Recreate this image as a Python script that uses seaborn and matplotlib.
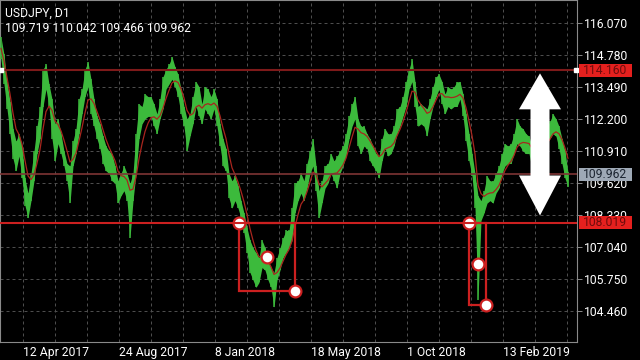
import numpy as np
import pandas as pd
import matplotlib
matplotlib.use("Agg")
import matplotlib.pyplot as plt
import seaborn as sns
from matplotlib.patches import Rectangle, Polygon
from matplotlib.transforms import blended_transform_factory

# ---------------- data ----------------
symbol_title = "USDJPY, D1"
ohlc_text = "109.719 110.042 109.466 109.962"

# price range of each group of 3 daily bars
bar_high = [115.5, 114.8, 113.7, 112.9, 111.8, 111.3, 111.6, 111.1, 109.8, 109.2,
            110.0, 110.9, 111.9, 112.7, 114.2, 114.4, 113.6, 113.0, 112.0, 112.2,
            111.6, 110.9, 110.4, 110.3, 111.3, 111.8, 113.0, 113.4, 114.2, 114.5,
            113.8, 113.0, 112.3, 112.0, 111.5, 111.1, 110.9, 110.8, 110.3, 109.7,
            110.0, 110.3, 110.0, 109.6, 110.0, 111.6, 112.8, 112.7, 113.2, 113.1,
            113.1, 112.8, 112.4, 113.0, 113.9, 114.2, 114.4, 114.7, 114.3, 114.0,
            113.4, 112.7, 112.2, 112.4, 113.1, 113.7, 113.5, 112.8, 113.5, 113.4,
            113.1, 113.4, 113.0, 112.0, 111.4, 111.0, 110.0, 109.7, 109.9, 109.5,
            108.9, 108.4, 107.8, 107.3, 107.0, 106.8, 106.6, 107.3, 107.0, 106.5,
            106.2, 106.0, 106.6, 107.0, 107.4, 107.7, 107.7, 108.6, 109.6, 109.7,
            110.0, 109.7, 110.4, 110.9, 111.4, 110.3, 109.3, 109.7, 110.3, 110.4,
            110.8, 110.5, 110.7, 110.9, 111.1, 111.6, 112.3, 112.8, 113.1, 112.2,
            111.9, 111.9, 111.6, 111.4, 111.1, 110.8, 110.7, 111.4, 111.8, 111.6,
            111.6, 111.9, 112.6, 112.7, 113.1, 113.7, 114.2, 114.6, 113.7, 112.7,
            112.8, 112.7, 112.6, 113.0, 113.5, 113.9, 114.0, 113.7, 113.2, 113.5,
            113.4, 113.5, 113.7, 113.7, 113.2, 112.4, 111.6, 110.8, 110.0, 109.1,
            108.9, 109.3, 109.9, 109.7, 109.7, 110.0, 110.3, 110.8, 111.2, 111.1,
            111.2, 111.6, 112.2, 111.9, 111.8, 111.6, 111.5, 111.1, 110.8, 111.0,
            111.4, 111.7, 111.9, 112.1, 112.4, 112.2, 111.9, 111.4, 110.9, 110.042]
bar_low = [114.6, 113.6, 112.6, 111.6, 110.6, 110.1, 110.7, 109.8, 108.7, 108.2,
           108.9, 109.7, 110.8, 111.4, 112.7, 113.4, 112.7, 111.4, 110.5, 111.2,
           110.8, 110.3, 109.7, 108.8, 110.3, 110.8, 111.6, 112.4, 113.1, 113.5,
           112.4, 111.9, 111.4, 111.0, 110.4, 110.1, 110.0, 109.7, 109.6, 108.8,
           109.1, 109.3, 108.9, 107.4, 108.9, 110.0, 111.4, 112.0, 112.2, 112.3,
           112.3, 111.9, 111.6, 112.2, 112.6, 113.4, 113.6, 113.8, 113.5, 113.1,
           112.4, 111.9, 110.9, 111.5, 112.0, 112.7, 112.3, 112.0, 112.6, 112.4,
           112.2, 112.6, 111.9, 111.1, 110.3, 110.1, 109.0, 108.6, 108.9, 108.6,
           108.2, 107.6, 106.8, 106.0, 105.7, 105.4, 105.6, 106.2, 106.1, 105.7,
           105.4, 104.6, 105.7, 106.1, 106.6, 106.8, 107.0, 107.3, 108.4, 108.9,
           109.2, 108.9, 109.4, 110.0, 110.3, 109.3, 108.2, 108.8, 109.4, 109.6,
           110.0, 109.7, 109.4, 110.0, 110.3, 110.7, 111.4, 111.9, 112.2, 111.1,
           110.8, 111.1, 111.0, 110.5, 110.3, 110.1, 109.8, 110.5, 111.0, 110.7,
           110.8, 111.1, 111.6, 111.9, 112.3, 112.7, 113.4, 113.7, 112.7, 111.9,
           112.0, 111.9, 111.5, 112.2, 112.7, 113.1, 113.4, 112.8, 112.4, 112.7,
           112.6, 112.7, 112.7, 113.0, 112.3, 111.3, 110.5, 109.9, 108.6, 104.9,
           108.1, 108.4, 108.8, 108.9, 108.8, 109.2, 109.4, 110.0, 110.3, 110.4,
           110.4, 110.8, 111.2, 111.1, 110.9, 110.8, 110.8, 110.2, 110.0, 110.2,
           110.7, 111.0, 111.3, 111.4, 111.6, 111.5, 111.0, 110.4, 109.8, 109.466]

date_labels = ["12 Apr 2017", "24 Aug 2017", "8 Jan 2018",
               "18 May 2018", "1 Oct 2018", "13 Feb 2019"]
price_ticks = [116.070, 114.780, 113.490, 112.200, 110.910,
               109.620, 108.330, 107.040, 105.750, 104.460]

resistance_level = 114.160
support_level = 108.019
last_price = 109.962

# two "zones" drawn below support: [start bar, end bar], bottom price, middle marker
zone_bars = [(239, 295), (469, 486)]
zone_bottom = [105.26, 104.69]
zone_mid_price = [106.63, 106.34]

# ---------------- layout constants ----------------
W, H = 640, 360
bars_per_point = 3
first_bar = 1
grid_first, grid_step, n_grid = 23, 32, 18
label_every = 3
ymin, ymax = 103.197, 116.998

GREEN = "#3cba3c"
MA_RED = "#a8261e"
GRID = "#4d4d4d"
FRAME = "#8a8a8a"
RES_RED = "#7e1a1a"
LAST_LINE = "#7e3434"
SUP_RED = "#cc2020"
BOX_RED = "#e5201e"
BOX_TXT_RED = "#6e0c0c"
BOX_GREY = "#9ea9b6"
FONT = "Roboto"
FS = 8.7

sns.set_style("dark", {"axes.facecolor": "black", "figure.facecolor": "black"})
plt.rcParams["font.family"] = [FONT, "DejaVu Sans"]

n = len(bar_high)
df = pd.DataFrame({
    "bar": np.arange(n) * bars_per_point + first_bar,
    "high": bar_high,
    "low": bar_low,
})
df["mid"] = (df["high"] + df["low"]) / 2
df["ma"] = df["mid"].ewm(span=5).mean()

fig = plt.figure(figsize=(W / 100, H / 100), dpi=100)
ax = fig.add_axes([0, (H - 342) / H, 577 / W, 342 / H])
ax.set_facecolor("black")
ax.set_xlim(0, 577)
ax.set_ylim(ymin, ymax)

# grid
grid_x = [grid_first + grid_step * k for k in range(n_grid)]
for gx in grid_x:
    ax.axvline(gx, color=GRID, lw=0.72, dashes=(3, 3), zorder=1)
for gy in price_ticks:
    ax.axhline(gy, color=GRID, lw=0.72, dashes=(3, 3), zorder=1)

# price bars: body of the range band plus each bar's spike
ax.fill_between(df["bar"], df["low"], df["high"], color=GREEN, lw=0, zorder=3)
ax.vlines(df["bar"], df["low"], df["high"], color=GREEN, lw=1.1, zorder=3)
# moving average
sns.lineplot(data=df, x="bar", y="ma", color=MA_RED, lw=0.9, ax=ax, zorder=4)

# horizontal levels
ax.axhline(resistance_level, color=RES_RED, lw=1.5, zorder=5)
ax.plot([1, 576], [resistance_level] * 2, "s", color="white", ms=2.2, zorder=6, clip_on=False)
ax.axhline(last_price, color=LAST_LINE, lw=1.2, zorder=5)

# zones
for (b0, b1), lo, mp in zip(zone_bars, zone_bottom, zone_mid_price):
    ax.add_patch(Rectangle((b0, lo), b1 - b0, support_level - lo, fill=False,
                           edgecolor=SUP_RED, lw=1.6, zorder=6))
    ax.plot([b0, (b0 + b1) / 2, b1], [support_level, mp, lo], "o", ms=8.5,
            mfc="white", mec=SUP_RED, mew=1.6, zorder=7, clip_on=False)
ax.axhline(support_level, color=SUP_RED, lw=1.5, zorder=8)

# double arrow (annotation)
ppx = 24.78  # pixels per yen
cx, hw, sw = 540, 21, 9.5
top_tip = resistance_level - 3 / ppx
bot_tip = support_level + 7 / ppx
head_len = 36 / ppx
arrow = [(cx, top_tip), (cx - hw, top_tip - head_len), (cx - sw, top_tip - head_len),
         (cx - sw, bot_tip + 40 / ppx), (cx - hw, bot_tip + 40 / ppx), (cx, bot_tip),
         (cx + hw, bot_tip + 40 / ppx), (cx + sw, bot_tip + 40 / ppx),
         (cx + sw, top_tip - head_len), (cx + hw, top_tip - head_len)]
ax.add_patch(Polygon(arrow, closed=True, facecolor="white", edgecolor="none", zorder=9))

# axes styling
for s in ax.spines.values():
    s.set_visible(True)
    s.set_color(FRAME)
    s.set_linewidth(0.8)
ax.yaxis.tick_right()
ax.set_yticks(price_ticks)
ax.set_yticklabels([f"{v:.3f}" for v in price_ticks])
ax.tick_params(axis="y", colors=FRAME, labelcolor="white", length=3.5, width=0.7,
               pad=1.5, labelsize=FS, right=True, left=False)
ax.set_xticks([grid_x[k] for k in range(0, n_grid, label_every)])
ax.set_xticklabels(date_labels)
ax.tick_params(axis="x", length=0, pad=3.0, labelsize=FS, labelcolor="white")
for t in ax.get_xticklabels():
    t.set_ha("left")
ax.set_xlabel("")
ax.set_ylabel("")
ax.grid(False)

# price boxes on the right axis (drawn over the axis labels, as in the platform)
tr = blended_transform_factory(fig.transFigure, ax.transData)
box_h = 13 / ppx
for lvl, bg, tc in [(resistance_level, BOX_RED, BOX_TXT_RED),
                    (last_price, BOX_GREY, "#1b2430"),
                    (support_level, BOX_RED, BOX_TXT_RED)]:
    ax.add_patch(Rectangle((579 / W, lvl - box_h / 2), 53 / W, box_h, transform=tr,
                           facecolor=bg, edgecolor="none", zorder=20, clip_on=False))
    ax.text(605.5 / W, lvl, f"{lvl:.3f}", transform=tr, ha="center", va="center",
            color=tc, fontsize=FS, zorder=21, clip_on=False)

# header text
fig.text(5 / W, 1 - 13 / H, symbol_title, color="white", fontsize=FS, va="center", ha="left")
fig.text(5 / W, 1 - 28.5 / H, ohlc_text, color="white", fontsize=FS, va="center", ha="left")

fig.savefig("out.png", dpi=100, facecolor="black")
